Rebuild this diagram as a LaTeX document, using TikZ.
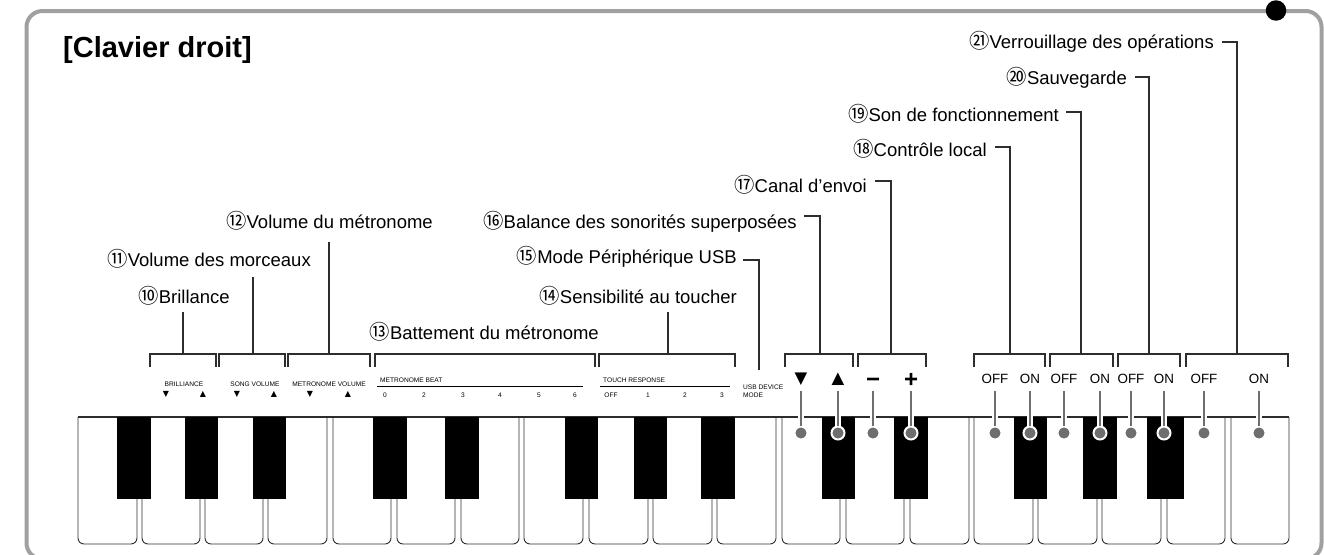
\documentclass[tikz,border=0pt]{standalone}
\usepackage{fontspec}
\setmainfont{Liberation Sans}
\newfontfamily\circfont[Scale=1.1]{Noto Sans CJK JP}
\newfontfamily\symfont{DejaVu Sans}
\usetikzlibrary{positioning,calc}
\definecolor{PanelGrey}{RGB}{160,160,160}
\definecolor{LeadGrey}{RGB}{110,110,110}
\definecolor{KeyLine}{RGB}{45,45,45}
\tikzset{
  panel/.style={draw=PanelGrey, line width=4pt, rounded corners=16pt},
  pin/.style={circle, fill=black, inner sep=0pt, minimum size=20.5pt},
  title/.style={anchor=base west, inner sep=0pt, font=\fontsize{29}{32}\selectfont\bfseries},
  callout/.style={anchor=base east, inner sep=0pt, font=\fontsize{18.5}{21}\selectfont},
  panelsmall/.style={inner sep=0pt, font=\fontsize{6.6}{8}\selectfont},
  smallsym/.style={inner sep=0pt, font=\fontsize{8}{8}\selectfont\symfont},
  switch/.style={inner sep=0pt, minimum height=24pt, font=\fontsize{13.4}{15}\selectfont},
  bigsym/.style={switch, font=\fontsize{16.5}{17}\selectfont\symfont},
  bigsign/.style={switch, text height=16pt, text depth=0pt, font=\fontsize{24}{25}\selectfont\bfseries},
  keyline/.style={draw=KeyLine, line width=0.9pt},
  blackkey/.style={fill=black, inner sep=0pt, minimum height=82pt},
  leader/.style={draw=KeyLine, line width=1.1pt},
  rule/.style={draw=black, line width=1pt},
  contact/.style={circle, fill=LeadGrey, draw=white, line width=2pt, inner sep=0pt, minimum size=13pt},
  lead/.style={draw=LeadGrey, line width=2.8pt, preaction={draw=white, line width=6.5pt}},
}
\newcommand{\circno}[1]{{\circfont #1}}
\newcommand{\whitekey}[2]{\draw[keyline, rounded corners=6pt] (#1,417) -- (#1,544) -- (#2,544) -- (#2,417);}
\newcommand{\bracketat}[4]{%
  \coordinate (foot#1) at (#3,354);
  \draw[leader] (#2,367) |- (#4,354) -- (#4,367);}
\begin{document}
\begin{tikzpicture}[x=1pt,y=-1pt]
\useasboundingbox (0,0) rectangle (1324,554);

% ---------------- panel ----------------
\draw[panel] (26.5,11) rectangle (1321.5,559);
\node[pin] (pin) at (1276,10.5) {};
\node[title] (title) at (63,57) {[Clavier droit]};

% ---------------- white keys ----------------
\whitekey{78}{137}
\whitekey{142}{200}
\whitekey{205}{263}
\whitekey{268}{327}
\whitekey{333}{391}
\whitekey{397}{455}
\whitekey{461}{519}
\whitekey{524}{583}
\whitekey{589}{648}
\whitekey{653}{712}
\whitekey{717}{776}
\whitekey{782}{840}
\whitekey{846}{904}
\whitekey{910}{969}
\whitekey{974}{1033}
\whitekey{1038}{1097}
\whitekey{1102}{1161}
\whitekey{1167}{1225}
\whitekey{1231}{1289}
\draw[keyline, line width=1.2pt] (78,417) -- (1289,417);

% ---------------- black keys ----------------
\node[blackkey, minimum width=34pt] (bk1) at (134,458) {};
\node[blackkey, minimum width=33pt] (bk2) at (201.5,458) {};
\node[blackkey, minimum width=33pt] (bk3) at (269.5,458) {};
\node[blackkey, minimum width=34pt] (bk4) at (390,458) {};
\node[blackkey, minimum width=34pt] (bk5) at (462,458) {};
\node[blackkey, minimum width=33pt] (bk6) at (581.5,458) {};
\node[blackkey, minimum width=33pt] (bk7) at (650.5,458) {};
\node[blackkey, minimum width=34pt] (bk8) at (718,458) {};
\node[blackkey, minimum width=33pt] (bk9) at (838.5,458) {};
\node[blackkey, minimum width=34pt] (bk10) at (911,458) {};
\node[blackkey, minimum width=33pt] (bk11) at (1030.5,458) {};
\node[blackkey, minimum width=34pt] (bk12) at (1100,458) {};
\node[blackkey, minimum width=37pt] (bk13) at (1165.5,458) {};

% ---------------- printed panel text ----------------
\node[panelsmall] (brill) at (184,384) {BRILLIANCE};
\node[smallsym] (brilldn) at (166,394) {▼};
\node[smallsym] (brillup) at (203,394) {▲};
\node[panelsmall] (song) at (255,384) {SONG VOLUME};
\node[smallsym] (songdn) at (237,394) {▼};
\node[smallsym] (songup) at (274,394) {▲};
\node[panelsmall] (metvol) at (329,384) {METRONOME VOLUME};
\node[smallsym] (metdn) at (310,394) {▼};
\node[smallsym] (metup) at (348,394) {▲};

\node[panelsmall, anchor=west] (beat) at (380,380) {METRONOME BEAT};
\draw[rule] (377,386) -- (583,386);
\node[panelsmall] (beat0) at (385,395) {0};
\node[panelsmall] (beat2) at (424,395) {2};
\node[panelsmall] (beat3) at (463,395) {3};
\node[panelsmall] (beat4) at (500,395) {4};
\node[panelsmall] (beat5) at (539,395) {5};
\node[panelsmall] (beat6) at (575,395) {6};

\node[panelsmall, anchor=west] (touch) at (603,380) {TOUCH RESPONSE};
\draw[rule] (600,386) -- (730,386);
\node[panelsmall] (touch0) at (611,395) {OFF};
\node[panelsmall] (touch1) at (648,395) {1};
\node[panelsmall] (touch2) at (685,395) {2};
\node[panelsmall] (touch3) at (722,395) {3};
\node[panelsmall, anchor=west, align=left] (usb) at (743,391) {USB DEVICE\\MODE};

% ---------------- switch positions with their contacts ----------------
\node[bigsym] (down) at (801,379) {▼};
\node[bigsym] (up) at (838,379) {▲};
\node[bigsign] (minus) at (873,379) {−};
\node[bigsign] (plus) at (911,379) {+};
\node[switch] (off1) at (995,379) {OFF};
\node[switch] (on1) at (1030,379) {ON};
\node[switch] (off2) at (1064,379) {OFF};
\node[switch] (on2) at (1100,379) {ON};
\node[switch] (off3) at (1131,379) {OFF};
\node[switch] (on3) at (1164,379) {ON};
\node[switch] (off4) at (1204,379) {OFF};
\node[switch] (on4) at (1259,379) {ON};

\node[contact] (cdown) at (801,433) {};
\node[contact] (cup) at (838,433) {};
\node[contact] (cminus) at (873,433) {};
\node[contact] (cplus) at (911,433) {};
\node[contact] (coff1) at (995,433) {};
\node[contact] (con1) at (1030,433) {};
\node[contact] (coff2) at (1064,433) {};
\node[contact] (con2) at (1100,433) {};
\node[contact] (coff3) at (1131,433) {};
\node[contact] (con3) at (1164,433) {};
\node[contact] (coff4) at (1204,433) {};
\node[contact] (con4) at (1259,433) {};

\draw[lead] (down.south) -- (cdown.north);
\draw[lead] (up.south) -- (cup.north);
\draw[lead] (minus.south) -- (cminus.north);
\draw[lead] (plus.south) -- (cplus.north);
\draw[lead] (off1.south) -- (coff1.north);
\draw[lead] (on1.south) -- (con1.north);
\draw[lead] (off2.south) -- (coff2.north);
\draw[lead] (on2.south) -- (con2.north);
\draw[lead] (off3.south) -- (coff3.north);
\draw[lead] (on3.south) -- (con3.north);
\draw[lead] (off4.south) -- (coff4.north);
\draw[lead] (on4.south) -- (con4.north);

% ---------------- brackets above the panel text ----------------
\bracketat{10}{150}{183}{216}
\bracketat{11}{219}{253}{285}
\bracketat{12}{288}{329}{370}
\bracketat{13}{375}{485}{595}
\bracketat{14}{599}{668}{735}
\bracketat{16}{785}{820}{853}
\bracketat{17}{858}{891}{926}
\bracketat{18}{974}{1010}{1045}
\bracketat{19}{1050}{1081}{1113}
\bracketat{20}{1118}{1149}{1180}
\bracketat{21}{1186}{1237}{1288}

% ---------------- numbered callouts ----------------
\node[callout] (lab10) at (230,303) {\circno{⑩}Brillance};
\node[callout] (lab11) at (311,266) {\circno{⑪}Volume des morceaux};
\node[callout] (lab12) at (433,228) {\circno{⑫}Volume du métronome};
\node[callout] (lab13) at (599,339) {\circno{⑬}Battement du métronome};
\node[callout] (lab14) at (737,303) {\circno{⑭}Sensibilité au toucher};
\node[callout] (lab15) at (737,263) {\circno{⑮}Mode Périphérique USB};
\node[callout] (lab16) at (797,228) {\circno{⑯}Balance des sonorités superposées};
\node[callout] (lab17) at (867,192) {\circno{⑰}Canal d’envoi};
\node[callout] (lab18) at (987,156) {\circno{⑱}Contrôle local};
\node[callout] (lab19) at (1059,121) {\circno{⑲}Son de fonctionnement};
\node[callout] (lab20) at (1127,84) {\circno{⑳}Sauvegarde};
\node[callout] (lab21) at (1214,48) {\circno{㉑}Verrouillage des opérations};

% straight leaders under the left labels
\coordinate (top10) at (183,312);
\coordinate (top11) at (253,277);
\coordinate (top12) at (329,242);
\coordinate (top14) at (668,312);
\draw[leader] (top10) -- (foot10);
\draw[leader] (top11) -- (foot11);
\draw[leader] (top12) -- (foot12);
\draw[leader] (top14) -- (foot14);

% elbow leaders starting right of the labels
\coordinate (end15) at (743,260);
\coordinate (foot15) at (759,370);
\coordinate (end16) at (804,216);
\coordinate (end17) at (875,181);
\coordinate (end18) at (995,147);
\coordinate (end19) at (1066,112);
\coordinate (end20) at (1135,77);
\coordinate (end21) at (1222,42);
\draw[leader] (end15) -| (foot15);
\draw[leader] (end16) -| (foot16);
\draw[leader] (end17) -| (foot17);
\draw[leader] (end18) -| (foot18);
\draw[leader] (end19) -| (foot19);
\draw[leader] (end20) -| (foot20);
\draw[leader] (end21) -| (foot21);

\end{tikzpicture}
\end{document}
